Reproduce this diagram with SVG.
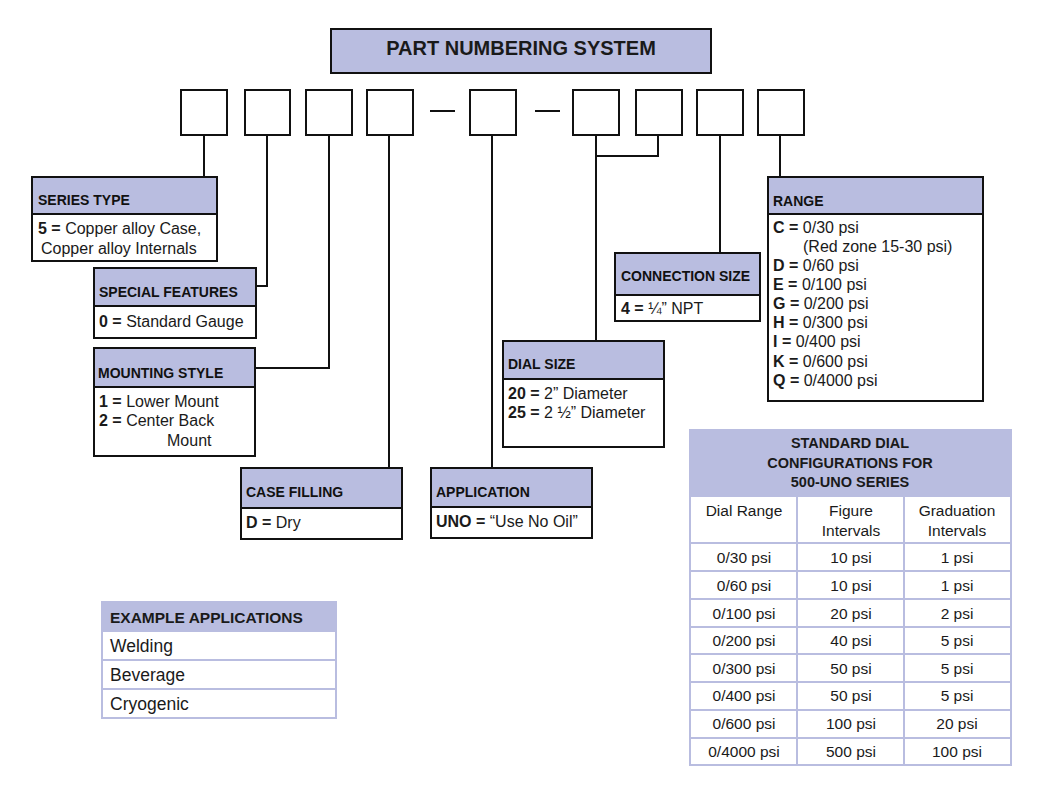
<svg xmlns="http://www.w3.org/2000/svg" width="1046" height="797" viewBox="0 0 1046 797">
<style>
text{font-family:"Liberation Sans",Arial,sans-serif;fill:#1a1a1a}
.h{font-weight:bold;font-size:14px;fill:#111}
.b{font-size:16px}
.t{font-size:15.5px}
.k{font-weight:bold}
.hd{fill:#b9bde0;stroke:#111;stroke-width:2}
.bd{fill:#fff;stroke:#111;stroke-width:2}
.sq{fill:#fff;stroke:#111;stroke-width:2}
.ln{fill:none;stroke:#111;stroke-width:2}
.tc{fill:#fff;stroke:#b9bde0;stroke-width:2}
.th{fill:#b9bde0;stroke:#b9bde0;stroke-width:2}
.c{text-anchor:middle}
</style>
<g id="title">
<rect x="331" y="29" width="380" height="44" class="hd"/>
<text x="521" y="55" class="k c" style="font-size:20px">PART NUMBERING SYSTEM</text>
</g>
<g id="digits">
<rect x="181" y="90" width="46" height="45" class="sq"/>
<rect x="245" y="90" width="45" height="45" class="sq"/>
<rect x="306" y="90" width="46" height="45" class="sq"/>
<rect x="367" y="90" width="46" height="45" class="sq"/>
<line x1="430" y1="111" x2="455" y2="111" class="ln"/>
<rect x="470" y="90" width="46" height="45" class="sq"/>
<line x1="535" y1="111" x2="560" y2="111" class="ln"/>
<rect x="573" y="90" width="46" height="45" class="sq"/>
<rect x="636" y="90" width="46" height="45" class="sq"/>
<rect x="697" y="90" width="46" height="45" class="sq"/>
<rect x="758" y="90" width="46" height="45" class="sq"/>
</g>
<g id="connectors">
<polyline points="204,135 204,177" class="ln"/>
<polyline points="267,135 267,286 256,286" class="ln"/>
<polyline points="329,135 329,368 255,368" class="ln"/>
<polyline points="389,135 389,468" class="ln"/>
<polyline points="492,135 492,468" class="ln"/>
<polyline points="596,135 596,341" class="ln"/>
<polyline points="658,135 658,156 596,156" class="ln"/>
<polyline points="720,135 720,253" class="ln"/>
<polyline points="780,135 780,177" class="ln"/>
</g>
<g id="series-type">
<rect x="32" y="214" width="185" height="47" class="bd"/>
<rect x="32" y="177" width="185" height="37" class="hd"/>
<text x="38" y="205" class="h">SERIES TYPE</text>
<text x="38" y="234" class="b"><tspan class="k">5 =</tspan> Copper alloy Case,</text>
<text x="41" y="254" class="b">Copper alloy Internals</text>
</g>
<g id="special-features">
<rect x="94" y="306" width="162" height="32" class="bd"/>
<rect x="94" y="268" width="162" height="38" class="hd"/>
<text x="99" y="297" class="h">SPECIAL FEATURES</text>
<text x="99" y="327" class="b"><tspan class="k">0 =</tspan> Standard Gauge</text>
</g>
<g id="mounting-style">
<rect x="94" y="387" width="161" height="69" class="bd"/>
<rect x="94" y="348" width="161" height="39" class="hd"/>
<text x="98" y="378" class="h">MOUNTING STYLE</text>
<text x="99" y="407" class="b"><tspan class="k">1 =</tspan> Lower Mount</text>
<text x="99" y="426" class="b"><tspan class="k">2 =</tspan> Center Back</text>
<text x="167" y="446" class="b">Mount</text>
</g>
<g id="case-filling">
<rect x="241" y="508" width="161" height="31" class="bd"/>
<rect x="241" y="468" width="161" height="40" class="hd"/>
<text x="246" y="497" class="h">CASE FILLING</text>
<text x="246" y="528" class="b"><tspan class="k">D =</tspan> Dry</text>
</g>
<g id="application">
<rect x="431" y="507" width="161" height="31" class="bd"/>
<rect x="431" y="468" width="161" height="39" class="hd"/>
<text x="436" y="497" class="h">APPLICATION</text>
<text x="436" y="527" class="b"><tspan class="k">UNO =</tspan> “Use No Oil”</text>
</g>
<g id="dial-size">
<rect x="503" y="379" width="161" height="68" class="bd"/>
<rect x="503" y="341" width="161" height="38" class="hd"/>
<text x="508" y="369" class="h">DIAL SIZE</text>
<text x="508" y="399" class="b"><tspan class="k">20 =</tspan> 2” Diameter</text>
<text x="508" y="418" class="b"><tspan class="k">25 =</tspan> 2 ½” Diameter</text>
</g>
<g id="connection-size">
<rect x="615" y="295" width="145" height="26" class="bd"/>
<rect x="615" y="253" width="145" height="42" class="hd"/>
<text x="621" y="281" class="h">CONNECTION SIZE</text>
<text x="621" y="314" class="b"><tspan class="k">4 =</tspan> ¼” NPT</text>
</g>
<g id="range">
<rect x="768" y="214" width="215" height="187" class="bd"/>
<rect x="768" y="177" width="215" height="37" class="hd"/>
<text x="773" y="206" class="h">RANGE</text>
<text x="773" y="233" class="b"><tspan class="k">C =</tspan> 0/30 psi</text>
<text x="803" y="252" class="b">(Red zone 15-30 psi)</text>
<text x="773" y="271" class="b"><tspan class="k">D =</tspan> 0/60 psi</text>
<text x="773" y="290" class="b"><tspan class="k">E =</tspan> 0/100 psi</text>
<text x="773" y="309" class="b"><tspan class="k">G =</tspan> 0/200 psi</text>
<text x="773" y="328" class="b"><tspan class="k">H =</tspan> 0/300 psi</text>
<text x="773" y="347" class="b"><tspan class="k">I =</tspan> 0/400 psi</text>
<text x="773" y="367" class="b"><tspan class="k">K =</tspan> 0/600 psi</text>
<text x="773" y="386" class="b"><tspan class="k">Q =</tspan> 0/4000 psi</text>
</g>
<g id="dial-config-table">
<rect x="690" y="430" width="321" height="66" class="th"/>
<text x="850" y="448" class="k c" style="font-size:14.5px">STANDARD DIAL</text>
<text x="850" y="468" class="k c" style="font-size:14.5px">CONFIGURATIONS FOR</text>
<text x="850" y="487" class="k c" style="font-size:14.5px">500-UNO SERIES</text>
<rect x="690" y="496" width="107" height="47" class="tc"/>
<rect x="797" y="496" width="107" height="47" class="tc"/>
<rect x="904" y="496" width="107" height="47" class="tc"/>
<text x="744" y="516" class="t c">Dial Range</text>
<text x="851" y="516" class="t c">Figure</text>
<text x="851" y="536" class="t c">Intervals</text>
<text x="957" y="516" class="t c">Graduation</text>
<text x="957" y="536" class="t c">Intervals</text>
<g>
<rect x="690" y="543" width="107" height="28" class="tc"/><rect x="797" y="543" width="107" height="28" class="tc"/><rect x="904" y="543" width="107" height="28" class="tc"/>
<rect x="690" y="571" width="107" height="28" class="tc"/><rect x="797" y="571" width="107" height="28" class="tc"/><rect x="904" y="571" width="107" height="28" class="tc"/>
<rect x="690" y="599" width="107" height="28" class="tc"/><rect x="797" y="599" width="107" height="28" class="tc"/><rect x="904" y="599" width="107" height="28" class="tc"/>
<rect x="690" y="627" width="107" height="27" class="tc"/><rect x="797" y="627" width="107" height="27" class="tc"/><rect x="904" y="627" width="107" height="27" class="tc"/>
<rect x="690" y="654" width="107" height="28" class="tc"/><rect x="797" y="654" width="107" height="28" class="tc"/><rect x="904" y="654" width="107" height="28" class="tc"/>
<rect x="690" y="682" width="107" height="28" class="tc"/><rect x="797" y="682" width="107" height="28" class="tc"/><rect x="904" y="682" width="107" height="28" class="tc"/>
<rect x="690" y="710" width="107" height="28" class="tc"/><rect x="797" y="710" width="107" height="28" class="tc"/><rect x="904" y="710" width="107" height="28" class="tc"/>
<rect x="690" y="738" width="107" height="27" class="tc"/><rect x="797" y="738" width="107" height="27" class="tc"/><rect x="904" y="738" width="107" height="27" class="tc"/>
</g>
<text x="744" y="563" class="t c">0/30 psi</text><text x="851" y="563" class="t c">10 psi</text><text x="957" y="563" class="t c">1 psi</text>
<text x="744" y="591" class="t c">0/60 psi</text><text x="851" y="591" class="t c">10 psi</text><text x="957" y="591" class="t c">1 psi</text>
<text x="744" y="619" class="t c">0/100 psi</text><text x="851" y="619" class="t c">20 psi</text><text x="957" y="619" class="t c">2 psi</text>
<text x="744" y="646" class="t c">0/200 psi</text><text x="851" y="646" class="t c">40 psi</text><text x="957" y="646" class="t c">5 psi</text>
<text x="744" y="674" class="t c">0/300 psi</text><text x="851" y="674" class="t c">50 psi</text><text x="957" y="674" class="t c">5 psi</text>
<text x="744" y="701" class="t c">0/400 psi</text><text x="851" y="701" class="t c">50 psi</text><text x="957" y="701" class="t c">5 psi</text>
<text x="744" y="729" class="t c">0/600 psi</text><text x="851" y="729" class="t c">100 psi</text><text x="957" y="729" class="t c">20 psi</text>
<text x="744" y="757" class="t c">0/4000 psi</text><text x="851" y="757" class="t c">500 psi</text><text x="957" y="757" class="t c">100 psi</text>
</g>
<g id="example-applications">
<rect x="102" y="602" width="234" height="29" class="th"/>
<rect x="102" y="631" width="234" height="29" class="tc"/>
<rect x="102" y="660" width="234" height="29" class="tc"/>
<rect x="102" y="689" width="234" height="29" class="tc"/>
<text x="110" y="623" class="k" style="font-size:15.5px">EXAMPLE APPLICATIONS</text>
<text x="110" y="652" style="font-size:17.5px">Welding</text>
<text x="110" y="681" style="font-size:17.5px">Beverage</text>
<text x="110" y="710" style="font-size:17.5px">Cryogenic</text>
</g>
</svg>
